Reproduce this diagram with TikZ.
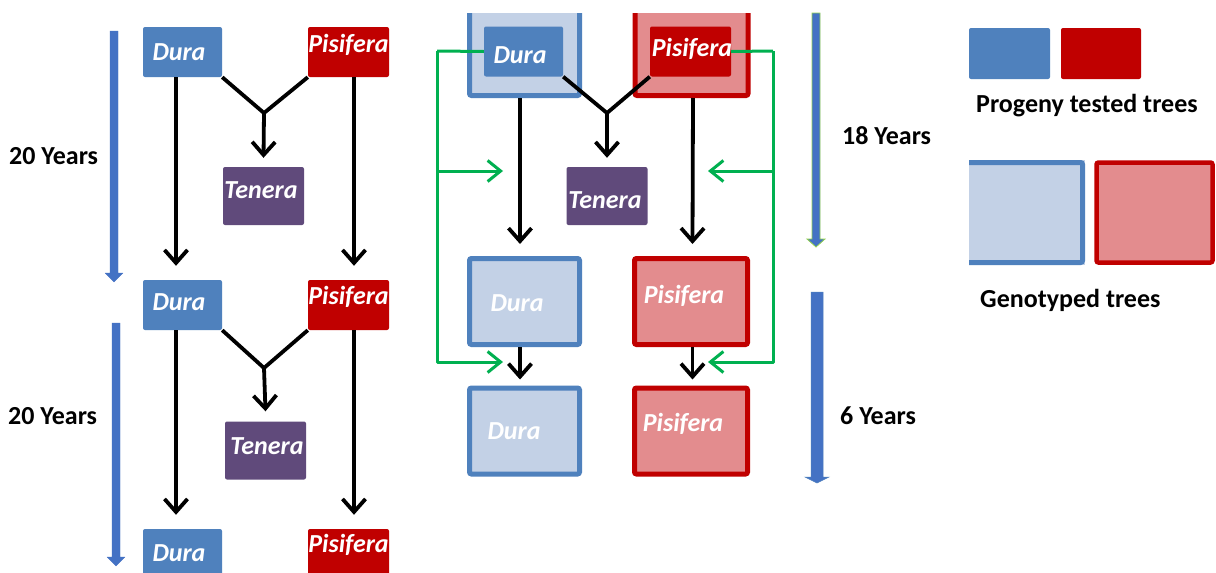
\documentclass[tikz,border=0pt]{standalone}
\usepackage{fontspec}
\setmainfont{Carlito}
\usetikzlibrary{arrows.meta,calc}
\definecolor{duraC}{HTML}{4F81BD}
\definecolor{pisC}{HTML}{C00000}
\definecolor{tenC}{HTML}{604A7B}
\definecolor{lduraC}{HTML}{C3D1E6}
\definecolor{lpisC}{HTML}{E38C8E}
\definecolor{grnC}{HTML}{00B050}
\definecolor{yrC}{HTML}{4472C4}
\definecolor{yrEdge}{HTML}{92D050}
\newcommand\yeararrow[8]{% a b top headstart tip halfwidth edgecolor edgewidth
  \filldraw[fill=yrC,draw=#7,line width=#8] (#1,#3) -- (#2,#3) -- (#2,#4) -- ({(#1+#2)/2+#6},#4) -- ({(#1+#2)/2},#5) -- ({(#1+#2)/2-#6},#4) -- (#1,#4) -- cycle;}
\tikzset{
  solidbox/.style={rounded corners=2pt,inner sep=0pt,draw=none},
  dbox/.style={solidbox,fill=duraC,minimum width=79pt,minimum height=50pt},
  pbox/.style={solidbox,fill=pisC,minimum width=81pt,minimum height=50pt},
  tbox/.style={solidbox,fill=tenC,minimum width=81pt,minimum height=58pt},
  gdbox/.style={rounded corners=2pt,inner sep=0pt,fill=lduraC,draw=duraC,line width=5pt,minimum width=110pt,minimum height=86pt},
  gpbox/.style={rounded corners=2pt,inner sep=0pt,fill=lpisC,draw=pisC,line width=5pt,minimum width=113pt,minimum height=86pt},
  lbl/.style={text=white,font=\fontsize{26}{26}\selectfont\bfseries\itshape,inner sep=0pt},
  yrs/.style={text=black,font=\fontsize{26}{26}\selectfont\bfseries,inner sep=0pt,anchor=west},
  blk/.style={draw=black,line width=3.8pt,-{Straight Barb[length=13pt,width=23pt,line width=3.8pt]}},
  blkline/.style={draw=black,line width=3.8pt},
  grn/.style={draw=grnC,line width=3pt,line join=round},
  grnar/.style={grn,-{Straight Barb[length=13pt,width=21pt,line width=3pt]}},
}
\begin{document}
\begin{tikzpicture}[x=1pt,y=-1pt]
\useasboundingbox[fill=white] (0,0) rectangle (1216,573);

% ---------- left column ----------
\node[dbox] (d1) at (182.5,52) {};
\node[lbl] at (179,52) {Dura};
\node[pbox] (p1) at (348.5,52) {};
\node[lbl] at (348.5,45) {Pisifera};
\node[tbox] (t1) at (263.5,196) {};
\node[lbl] at (261,190) {Tenera};
\node[dbox] (d2) at (182.5,305) {};
\node[lbl] at (179,302) {Dura};
\node[pbox] (p2) at (348.5,305) {};
\node[lbl] at (348.5,297) {Pisifera};
\node[tbox] (t2) at (265.5,450.5) {};
\node[lbl] at (267,446) {Tenera};
\node[dbox,minimum height=60pt] (d3) at (182.5,559) {};
\node[lbl] at (179,553) {Dura};
\node[pbox,minimum height=60pt] (p3) at (348.5,559) {};
\node[lbl] at (348.5,545) {Pisifera};

\coordinate (j1) at (264,113);
\draw[blkline] (d1.south east) -- (j1) -- (p1.south west);
\draw[blk] (j1) -- ([yshift=9pt]t1.north);
\draw[blk] ([xshift=-6.5pt]d1.south) -- ([xshift=-6.5pt,yshift=14pt]d2.north);
\draw[blk] ([xshift=5.5pt]p1.south) -- ([xshift=5.5pt,yshift=14pt]p2.north);

\coordinate (j2) at (264,368);
\draw[blkline] (d2.south east) -- (j2) -- (p2.south west);
\draw[blk] (j2) -- ([yshift=10pt]t2.north);
\draw[blk] ([xshift=-6.5pt]d2.south) -- ([xshift=-6.5pt,yshift=14pt]d3.north);
\draw[blk] ([xshift=5.5pt]p2.south) -- ([xshift=5.5pt,yshift=14pt]p3.north);

\yeararrow{110}{118}{31}{273}{282}{9}{yrC}{0.1pt}
\yeararrow{112}{120}{323}{557}{566}{9}{yrC}{0.1pt}
\node[yrs] at (9,156) {20 Years};
\node[yrs] at (8,416) {20 Years};

% ---------- middle column ----------
\begin{scope}
\clip (0,13) rectangle (1216,573);
\node[gdbox,minimum height=95.5pt] (od) at (524.5,47.75) {};
\node[gpbox,minimum height=95.5pt] (op) at (691.5,47.75) {};
\end{scope}
\node[dbox] (di) at (523.5,51.5) {};
\node[lbl] at (520,55) {Dura};
\node[pbox] (pi) at (690.5,51.5) {};
\node[lbl] at (692,49) {Pisifera};
\node[tbox] (t3) at (607,196) {};
\node[lbl] at (605,200) {Tenera};
\node[gdbox] (gd1) at (524.5,301.5) {};
\node[lbl] at (517,303) {Dura};
\node[gpbox] (gp1) at (691,301.5) {};
\node[lbl] at (684,296) {Pisifera};
\node[gdbox] (gd2) at (524.5,431) {};
\node[lbl] at (514,431) {Dura};
\node[gpbox] (gp2) at (691,431) {};
\node[lbl] at (683,424) {Pisifera};

\coordinate (j3) at (607,113);
\draw[blkline] (di.south east) -- (j3) -- (pi.south west);
\draw[blk] (j3) -- ([yshift=9pt]t3.north);
\draw[blk] ([xshift=-4.5pt]od.south) -- ([xshift=-4.5pt,yshift=12pt]gd1.north);
\draw[blk] ([xshift=1.5pt]op.south) -- ([xshift=1.5pt,yshift=12pt]gp1.north);
\draw[blk] ([xshift=-4.5pt]gd1.south) -- ([xshift=-4.5pt,yshift=6pt]gd2.north);
\draw[blk] ([xshift=1.5pt]gp1.south) -- ([xshift=1.5pt,yshift=6pt]gp2.north);

% green feedback connectors
\coordinate (gl) at (437,51);
\coordinate (gla) at (503,171);
\coordinate (glb) at (503,362);
\coordinate (gr) at (773,51);
\coordinate (gra) at (708,171);
\coordinate (grb) at (708,362);
\draw[grn] (di.west) -- (gl);
\draw[grnar] (gl) |- (glb);
\draw[grnar] (gl |- gla) -- (gla);
\draw[grn] (pi.east) -- (gr);
\draw[grnar] (gr) |- (grb);
\draw[grnar] (gr |- gra) -- (gra);

% ---------- right year arrows ----------
\yeararrow{812}{820}{13}{239}{247}{9}{yrEdge}{0.8pt}
\node[yrs] at (842,136) {18 Years};
\yeararrow{811}{823}{292}{477}{483}{12}{duraC}{0.5pt}
\node[yrs] at (840,416) {6 Years};

% ---------- legend ----------
\node[solidbox,fill=duraC,minimum width=81pt,minimum height=51pt] (lb) at (1009.5,53.5) {};
\node[solidbox,fill=pisC,minimum width=80pt,minimum height=51pt] (lr) at (1101,53.5) {};
\node[yrs] (lt1) at (976,106) {Progeny tested trees};
\fill[lduraC] (969,160) rectangle (1085,265);
\draw[duraC,line width=5pt,rounded corners=2pt] (969,162.5) -- (1082.5,162.5) -- (1082.5,262.5) -- (969,262.5);
\node[gpbox,minimum width=116pt,minimum height=100pt,line width=4.5pt] (lp) at (1154.5,212.5) {};
\node[yrs] (lt2) at (980,300) {Genotyped trees};
\end{tikzpicture}
\end{document}
